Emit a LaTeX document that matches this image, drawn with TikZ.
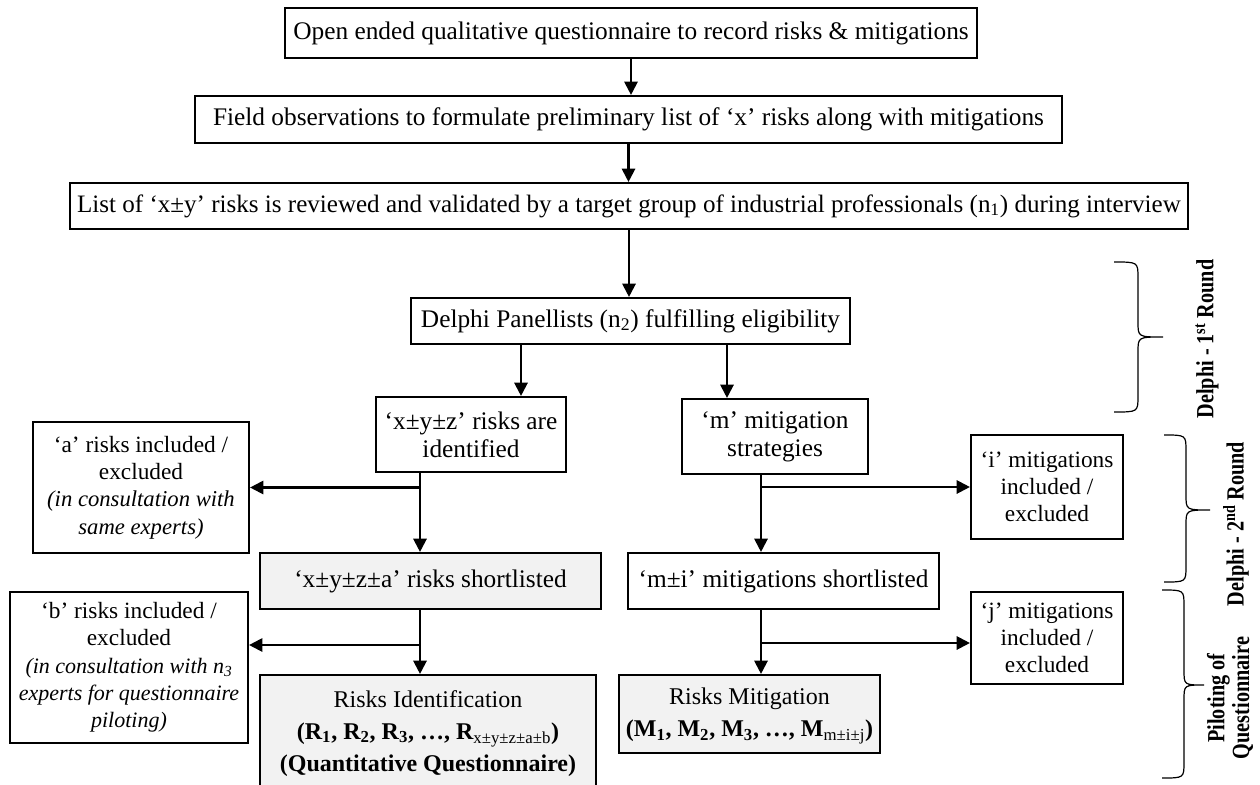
\documentclass[tikz,border=0pt]{standalone}
\usepackage{fontspec}
\setmainfont{Liberation Serif}
\usetikzlibrary{arrows.meta}
\definecolor{shade}{HTML}{F2F2F2}
\begin{document}
\begin{tikzpicture}[x=0.75pt,y=-0.75pt,
  box/.style={draw, line width=1.6pt, inner sep=0pt, align=center,
    font=\fontsize{19}{21}\selectfont},
  sidebox/.style={box, font=\fontsize{17.5}{20.5}\selectfont},
  endbox/.style={box, fill=shade, font=\fontsize{18}{24}\selectfont},
  shaded/.style={box, fill=shade},
  arr/.style={line width=1.6pt, -{Triangle[length=10pt,width=10pt]}},
  bracepath/.style={line width=0.9pt},
  phase/.style={rotate=90, align=center, font=\bfseries\fontsize{18.5}{18.5}\selectfont}]
\clip (0,0) rectangle (1260,785);

% main chain
\node[box, minimum width={692*0.75pt}, minimum height={50*0.75pt}] (b1) at (631,33)
  {Open ended qualitative questionnaire to record risks \& mitigations};
\node[box, minimum width={867*0.75pt}, minimum height={47*0.75pt}] (b2) at (628.5,119.5)
  {Field observations to formulate preliminary list of ‘x’ risks along with mitigations};
\node[box, minimum width={1118*0.75pt}, minimum height={46*0.75pt}, font=\fontsize{18.8}{21}\selectfont] (b3) at (629,206)
  {List of ‘x±y’ risks is reviewed and validated by a target group of industrial professionals (n\textsubscript{1}) during interview};
\node[box, minimum width={439*0.75pt}, minimum height={46*0.75pt}] (del) at (630.5,321)
  {Delphi Panellists (n\textsubscript{2}) fulfilling eligibility};

% risk branch
\node[box, minimum width={190*0.75pt}, minimum height={75*0.75pt}] (xyz) at (471,434.5)
  {‘x±y±z’ risks are\\identified};
\node[sidebox, minimum width={216*0.75pt}, minimum height={131*0.75pt}] (a) at (141,487.5)
  {‘a’ risks included /\\excluded\\{\fontsize{17}{20.5}\selectfont\itshape (in consultation with}\\{\fontsize{17}{20.5}\selectfont\itshape same experts)}};
\node[shaded, minimum width={341*0.75pt}, minimum height={56*0.75pt}] (xyza) at (430.5,581)
  {‘x±y±z±a’ risks shortlisted};
\node[sidebox, minimum width={238*0.75pt}, minimum height={151*0.75pt}] (b) at (129,667.5)
  {‘b’ risks included /\\excluded\\{\fontsize{16.5}{20}\selectfont\itshape (in consultation with n\textsubscript{3}}\\{\fontsize{16.5}{20}\selectfont\itshape experts for questionnaire}\\{\fontsize{16.5}{20}\selectfont\itshape piloting)}};
\node[endbox, minimum width={336*0.75pt}, minimum height={117*0.75pt}] (ri) at (428,733.5)
  {Risks Identification\\\textbf{(R\textsubscript{1}, R\textsubscript{2}, R\textsubscript{3}, …, R\textsubscript{\normalfont x±y±z±a±b})}\\\textbf{(Quantitative Questionnaire)}};

% mitigation branch
\node[box, minimum width={186*0.75pt}, minimum height={75*0.75pt}] (m) at (775,436.5)
  {‘m’ mitigation\\strategies};
\node[sidebox, minimum width={152*0.75pt}, minimum height={104*0.75pt}] (i) at (1047,487)
  {‘i’ mitigations\\included /\\excluded};
\node[box, minimum width={311*0.75pt}, minimum height={56*0.75pt}] (mi) at (783.5,581)
  {‘m±i’ mitigations shortlisted};
\node[sidebox, minimum width={152*0.75pt}, minimum height={92*0.75pt}] (j) at (1047,638)
  {‘j’ mitigations\\included /\\excluded};
\node[endbox, minimum width={261*0.75pt}, minimum height={78*0.75pt}, text depth={3*0.75pt}] (rm) at (749.5,714)
  {Risks Mitigation\\\textbf{(M\textsubscript{1}, M\textsubscript{2}, M\textsubscript{3}, …, M\textsubscript{\normalfont m±i±j})}};

% connector columns and branch rows
\coordinate (cl) at (521,0);
\coordinate (cr) at (727,0);
\coordinate (rl) at (420,0);
\coordinate (rr) at (761,0);
\coordinate (rowb) at (0,645);
\coordinate (rowj) at (0,643);

\draw[arr] (b1.south) -- (b1.south |- b2.north);
\draw[arr] (b2.south) -- (b2.south |- b3.north);
\draw[arr] (b3.south) -- (b3.south |- del.north);
\draw[arr] (del.south -| cl) -- (xyz.north -| cl);
\draw[arr] (del.south -| cr) -- (m.north -| cr);

\draw[arr] (xyz.south -| rl) -- (xyza.north -| rl);
\draw[arr] (a.east -| rl) -- (a.east);
\draw[arr] (xyza.south -| rl) -- (ri.north -| rl);
\draw[arr] (rl |- rowb) -- (b.east |- rowb);

\draw[arr] (m.south -| rr) -- (mi.north -| rr);
\draw[arr] (i.west -| rr) -- (i.west);
\draw[arr] (mi.south -| rr) -- (rm.north -| rr);
\draw[arr] (rr |- rowj) -- (j.west |- rowj);

% phase braces
\draw[bracepath] (1114,262) .. controls (1138,262) .. (1138,278) -- (1138,322)
  .. controls (1138,337) .. (1163,337) .. controls (1138,337) .. (1138,352)
  -- (1138,396) .. controls (1138,412) .. (1114,412);
\draw[bracepath] (1164,435) .. controls (1186,435) .. (1186,451) -- (1186,495)
  .. controls (1186,510) .. (1210,510) .. controls (1186,510) .. (1186,525)
  -- (1186,566) .. controls (1186,582) .. (1164,582);
\draw[bracepath] (1162,590) .. controls (1184,590) .. (1184,606) -- (1184,670)
  .. controls (1184,685) .. (1204,685) .. controls (1184,685) .. (1184,700)
  -- (1184,762) .. controls (1184,778) .. (1162,778);

\node[phase] (p1) at (1207,339) {\scalebox{0.82}[1]{Delphi - 1\textsuperscript{st} Round}};
\node[phase] (p2) at (1236,524) {\scalebox{0.82}[1]{Delphi - 2\textsuperscript{nd} Round}};
\node[phase] (p3) at (1230,698) {\scalebox{0.82}[1]{Piloting of}\\\scalebox{0.82}[1]{Questionnaire}};
\end{tikzpicture}
\end{document}
